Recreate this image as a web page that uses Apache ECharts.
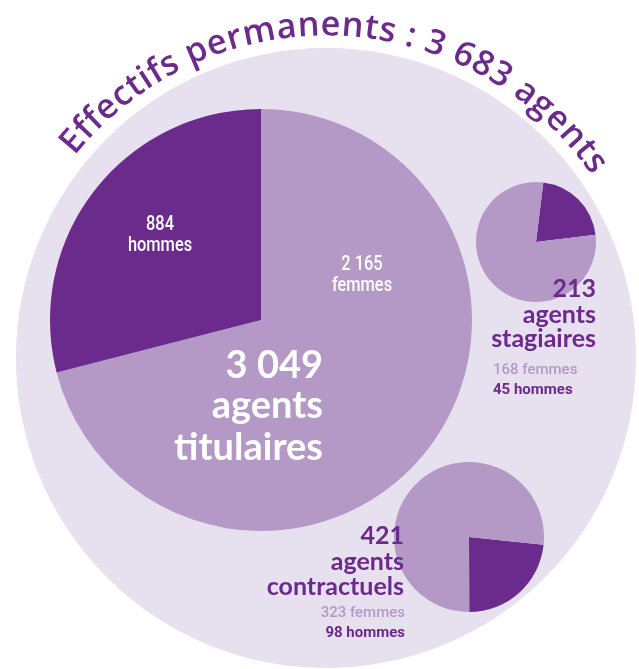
<!DOCTYPE html>
<html><head><meta charset="utf-8">
<script src="https://cdn.jsdelivr.net/npm/echarts@6/dist/echarts.min.js"></script>
<style>html,body{margin:0;padding:0;background:#fff}#c{width:639px;height:669px}</style>
</head><body><div id="c"></div>
<script>
// ---- data ----
const categories = ['titulaires', 'stagiaires', 'contractuels'];
const femmes = [2165, 168, 323];
const hommes = [884, 45, 98];
const totals = [3049, 213, 421];
const totalPermanents = 3683;
const titleText = 'Effectifs permanents : ';

const DARK = '#6b2b8c', LIGHT = '#b499c7', BG = '#e7e0ee', TXT = '#6b2a8c';
function fmt(n){ return String(n).replace(/\B(?=(\d{3})+(?!\d))/g, ' '); }

const chart = echarts.init(document.getElementById('c'), null, {renderer:'canvas'});

// ---- curved title ----
const title = titleText + fmt(totalPermanents) + ' agents';
const TW = 600, TFAM = '"Open Sans", sans-serif';
const cvs = document.createElement('canvas').getContext('2d');
const chars = [...title];
const arcC = [326, 358], Rb = 321, a0 = 141.2 * Math.PI/180, a1 = 34.5 * Math.PI/180;
const L = Rb * (a0 - a1);
cvs.font = TW + ' 30px ' + TFAM;
const W30 = chars.reduce((s,ch)=>s+cvs.measureText(ch).width,0);
const TF = 30 * (L - 0.6*(chars.length-1)) / W30;
cvs.font = TW + ' ' + TF + 'px ' + TFAM;
const ws = chars.map(ch => cvs.measureText(ch).width);
const W = ws.reduce((s,v)=>s+v,0);
const extra = (L - W) / (ws.length - 1);
const graphics = [];
let pos = 0;
chars.forEach((ch, i) => {
  const p = pos + ws[i]/2;
  pos += ws[i] + extra;
  if (ch === ' ') return;
  const th = a0 - p / Rb;
  const r = Rb + 0.33*TF;
  graphics.push({type:'text', z:100, x: arcC[0] + r*Math.cos(th), y: arcC[1] - r*Math.sin(th),
    rotation: th - Math.PI/2, silent:true,
    style:{text: ch, fontSize: TF, fontWeight: TW, fontFamily: TFAM, fill: TXT, align:'center', verticalAlign:'middle'}});
});

function txt(x, y, text, o){
  const st = {text, fontSize:o.fs, fontWeight:o.fw||'normal', fontFamily:o.ff, fill:o.c, align:o.al||'center', verticalAlign:'middle'};
  if (o.lh) st.lineHeight = o.lh;
  graphics.push({type:'text', z:100, x, y, silent:true, scaleX: o.sx || 1, style: st});
}
const COND = 'Roboto, sans-serif', BIG = 'Lato, sans-serif';
// titulaires labels
txt(160, 235, fmt(hommes[0]) + '\nhommes', {fs:20, ff:COND, c:'#fff', lh:21, sx:0.82, fw:500});
txt(362, 275, fmt(femmes[0]) + '\nfemmes', {fs:20, ff:COND, c:'#fff', lh:21, sx:0.82, fw:500});
txt(323, 365.5, fmt(totals[0]), {fs:38, ff:BIG, fw:'bold', c:'#fff', al:'right'});
txt(323, 405.5, 'agents', {fs:38, ff:BIG, fw:'bold', c:'#fff', al:'right'});
txt(323, 447.5, categories[0], {fs:38, ff:BIG, fw:'bold', c:'#fff', al:'right'});
// stagiaires
txt(596, 289, fmt(totals[1]), {fs:25, ff:BIG, fw:'bold', c:TXT, al:'right'});
txt(596, 315, 'agents', {fs:25, ff:BIG, fw:'bold', c:TXT, al:'right'});
txt(596, 339, categories[1], {fs:25, ff:BIG, fw:'bold', c:TXT, al:'right'});
txt(493, 370, fmt(femmes[1]) + ' femmes', {fs:15, ff:COND, c:LIGHT, al:'left', fw:500});
txt(493, 390, fmt(hommes[1]) + ' hommes', {fs:15, ff:COND, c:TXT, al:'left', fw:'bold'});
// contractuels
txt(404, 536, fmt(totals[2]), {fs:25, ff:BIG, fw:'bold', c:TXT, al:'right'});
txt(404, 562, 'agents', {fs:25, ff:BIG, fw:'bold', c:TXT, al:'right'});
txt(404, 587, categories[2], {fs:25, ff:BIG, fw:'bold', c:TXT, al:'right'});
txt(405, 613, fmt(femmes[2]) + ' femmes', {fs:15, ff:COND, c:LIGHT, al:'right', fw:500});
txt(405, 633, fmt(hommes[2]) + ' hommes', {fs:15, ff:COND, c:TXT, al:'right', fw:'bold'});

const pieBase = {type:'pie', label:{show:false}, labelLine:{show:false}, silent:true,
  emphasis:{disabled:true}, itemStyle:{borderWidth:0}, animation:false, clockwise:true};
function piePair(i, center, radius, startAngle, hommesFirst){
  const f = {name:'femmes', value:femmes[i], itemStyle:{color:LIGHT}};
  const h = {name:'hommes', value:hommes[i], itemStyle:{color:DARK}};
  return Object.assign({}, pieBase, {name:categories[i], center, radius, startAngle, z:2,
    data: hommesFirst ? [h, f] : [f, h]});
}

chart.setOption({
  animation:false,
  series:[
    Object.assign({}, pieBase, {name:'total', center:arcC, radius:310, z:1,
      data:[{name:'Effectifs permanents', value:totalPermanents, itemStyle:{color:BG}}]}),
    piePair(0, [261, 320], 211, 90, false),
    piePair(1, [536, 242], 60, 83, true),
    piePair(2, [469, 537], 75, -6, true)
  ],
  graphic: {elements: graphics}
});
</script></body></html>
